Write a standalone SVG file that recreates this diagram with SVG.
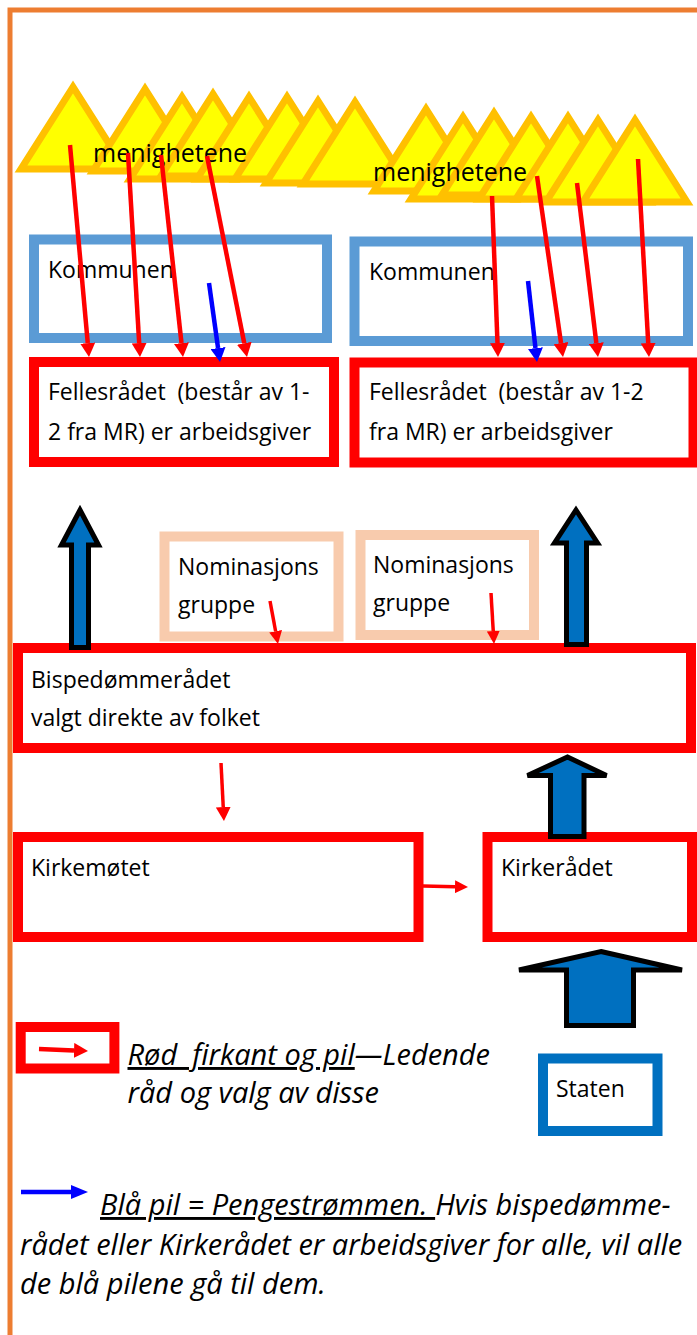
<svg xmlns="http://www.w3.org/2000/svg" width="697" height="1335" viewBox="0 0 697 1335">
<style>
.t{font-family:"Open Sans","Liberation Sans",sans-serif;font-size:23px;fill:#000}
.m{font-size:25px}
.i{font-style:italic;font-size:29px}
.tri{fill:#FFFF00;stroke:#FFC000;stroke-width:7;stroke-linejoin:miter}
.rb{fill:#fff;stroke:#FF0000;stroke-width:10}
.kb{fill:#fff;stroke:#5B9BD5;stroke-width:10}
.nb{fill:#fff;stroke:#F8CBAD;stroke-width:10}
.sb{fill:#fff;stroke:#0070C0;stroke-width:10}
.rl{stroke:#FF0000;stroke-width:4.5;fill:none}
.rs{stroke:#FF0000;stroke-width:3.5;fill:none}
.bl{stroke:#0000FF;stroke-width:4.5;fill:none}
.blk{fill:#0070C0;stroke:#000;stroke-width:5}
</style>
<defs>
<marker id="rh" markerUnits="userSpaceOnUse" markerWidth="14" markerHeight="15" refX="0" refY="7.5" orient="auto"><path d="M0,0 L14,7.5 L0,15 Z" fill="#FF0000"/></marker>
<marker id="rhs" markerUnits="userSpaceOnUse" markerWidth="13" markerHeight="13" refX="0" refY="6.5" orient="auto"><path d="M0,0 L13,6.5 L0,13 Z" fill="#FF0000"/></marker>
<marker id="bh" markerUnits="userSpaceOnUse" markerWidth="14" markerHeight="15" refX="0" refY="7.5" orient="auto"><path d="M0,0 L14,7.5 L0,15 Z" fill="#0000FF"/></marker>
<marker id="bhl" markerUnits="userSpaceOnUse" markerWidth="17" markerHeight="14" refX="0" refY="7" orient="auto"><path d="M0,0 L17,7 L0,14 Z" fill="#0000FF"/></marker>
</defs>
<rect width="697" height="1335" fill="#fff"/>
<path d="M10,1340 V10 H700" fill="none" stroke="#ED7D31" stroke-width="5"/>

<g id="menighetene-venstre">
<polygon class="tri" points="73,87 21,169 125,169"/>
<polygon class="tri" points="145,89 93,171 197,171"/>
<polygon class="tri" points="182,97 130,179 234,179"/>
<polygon class="tri" points="213,94 161,176 265,176"/>
<polygon class="tri" points="249,97 197,179 301,179"/>
<polygon class="tri" points="287,97 235,179 339,179"/>
<polygon class="tri" points="318,101 266,183 370,183"/>
<polygon class="tri" points="355,102 303,184 407,184"/>
</g>
<g id="menighetene-hoyre">
<polygon class="tri" points="426,109 374,191 478,191"/>
<polygon class="tri" points="463,117 411,199 515,199"/>
<polygon class="tri" points="494,113 442,195 546,195"/>
<polygon class="tri" points="531,117 479,199 583,199"/>
<polygon class="tri" points="568,117 516,199 620,199"/>
<polygon class="tri" points="598,120 546,202 650,202"/>
<polygon class="tri" points="635,120 583,202 687,202"/>
</g>
<text class="t m" x="93" y="162">menighetene</text>
<text class="t m" x="373" y="181">menighetene</text>

<g id="kommunen-venstre">
<rect class="kb" x="34" y="239.5" width="293" height="98.5"/>
<text class="t" x="48" y="278">Kommunen</text>
</g>
<g id="kommunen-hoyre">
<rect class="kb" x="354.5" y="241.5" width="333.5" height="99.5"/>
<text class="t" x="369" y="280">Kommunen</text>
</g>
<g id="fellesradet-venstre">
<rect class="rb" x="34" y="362" width="300" height="100"/>
<text class="t" x="48" y="400" xml:space="preserve">Fellesrådet  (består av 1-</text>
<text class="t" x="48" y="440">2 fra MR) er arbeidsgiver</text>
</g>
<g id="fellesradet-hoyre">
<rect class="rb" x="354.5" y="362.5" width="339" height="100"/>
<text class="t" x="369" y="400" xml:space="preserve">Fellesrådet  (består av 1-2</text>
<text class="t" x="369" y="440">fra MR) er arbeidsgiver</text>
</g>
<g id="nominasjon-1">
<rect class="nb" x="164.5" y="536.5" width="174" height="100"/>
<text class="t" x="178" y="575">Nominasjons</text>
<text class="t" x="178" y="613">gruppe</text>
</g>
<g id="nominasjon-2">
<rect class="nb" x="360.5" y="535" width="173.5" height="100"/>
<text class="t" x="373" y="573">Nominasjons</text>
<text class="t" x="373" y="611">gruppe</text>
</g>
<g id="bispedommeradet">
<rect class="rb" x="18" y="648" width="673" height="100"/>
<text class="t" x="31" y="688">Bispedømmerådet</text>
<text class="t" x="31" y="726">valgt direkte av folket</text>
</g>
<g id="kirkemotet">
<rect class="rb" x="18" y="837" width="400.5" height="100"/>
<text class="t" x="31" y="876">Kirkemøtet</text>
</g>
<g id="kirkeradet">
<rect class="rb" x="487.5" y="837" width="204.5" height="100"/>
<text class="t" x="501" y="876">Kirkerådet</text>
</g>
<g id="staten">
<rect class="sb" x="543" y="1058.5" width="114.5" height="72.5"/>
<text class="t" x="556" y="1097">Staten</text>
</g>

<g id="connectors">
<line class="rl" x1="70" y1="145" x2="87.75" y2="343.06" marker-end="url(#rh)"/>
<line class="rl" x1="128" y1="153" x2="139.18" y2="343.02" marker-end="url(#rh)"/>
<line class="rl" x1="161" y1="155" x2="181.48" y2="343.08" marker-end="url(#rh)"/>
<line class="rl" x1="207" y1="156" x2="244.27" y2="343.27" marker-end="url(#rh)"/>
<line class="bl" x1="209" y1="283" x2="218.07" y2="348.13" marker-end="url(#bh)"/>
<line class="rl" x1="492" y1="196" x2="497.48" y2="343.01" marker-end="url(#rh)"/>
<line class="rl" x1="537" y1="176" x2="561.01" y2="343.14" marker-end="url(#rh)"/>
<line class="rl" x1="577" y1="183" x2="596.32" y2="343.1" marker-end="url(#rh)"/>
<line class="rl" x1="638" y1="159" x2="648.22" y2="343.02" marker-end="url(#rh)"/>
<line class="bl" x1="528" y1="281" x2="535.45" y2="348.09" marker-end="url(#bh)"/>
<line class="rs" x1="270" y1="601" x2="275.62" y2="631.22" marker-end="url(#rhs)"/>
<line class="rs" x1="491" y1="593" x2="493.24" y2="631.02" marker-end="url(#rhs)"/>
<line class="rs" x1="221" y1="763" x2="223.24" y2="807.02" marker-end="url(#rh)"/>
<line class="rs" x1="423" y1="886" x2="455" y2="886.7" marker-end="url(#rhs)"/>
<path class="blk" d="M80,510 L98.5,545 L88.5,545 L88.5,647.5 L71.5,647.5 L71.5,545 L61.5,545 Z"/>
<path class="blk" d="M576,510 L597.5,543 L586.5,543 L586.5,644.5 L566.5,644.5 L566.5,543 L554.5,543 Z"/>
<path class="blk" d="M567.5,757 L606.5,775.5 L584,775.5 L584,836.5 L550.5,836.5 L550.5,775.5 L527.5,775.5 Z"/>
<path class="blk" d="M601,951.5 L682,970 L633.5,970 L633.5,1025.5 L566.5,1025.5 L566.5,970 L519,970 Z"/>
</g>

<g id="legend-rod">
<rect class="rb" x="20.7" y="1027" width="93.7" height="41.5"/>
<line class="rl" x1="39" y1="1049" x2="74" y2="1050.4" marker-end="url(#rh)"/>
<text class="t i" x="127.5" y="1065" xml:space="preserve"><tspan text-decoration="underline">Rød  firkant og pil</tspan>—Ledende</text>
<text class="t i" x="127.5" y="1103">råd og valg av disse</text>
</g>
<g id="legend-bla">
<line class="bl" x1="21" y1="1192" x2="71" y2="1192" marker-end="url(#bhl)"/>
<text class="t i" x="100" y="1215" xml:space="preserve"><tspan text-decoration="underline">Blå pil = Pengestrømmen. </tspan>Hvis bispedømme-</text>
<text class="t i" x="20" y="1255">rådet eller Kirkerådet er arbeidsgiver for alle, vil alle</text>
<text class="t i" x="20" y="1294">de blå pilene gå til dem.</text>
</g>
</svg>
